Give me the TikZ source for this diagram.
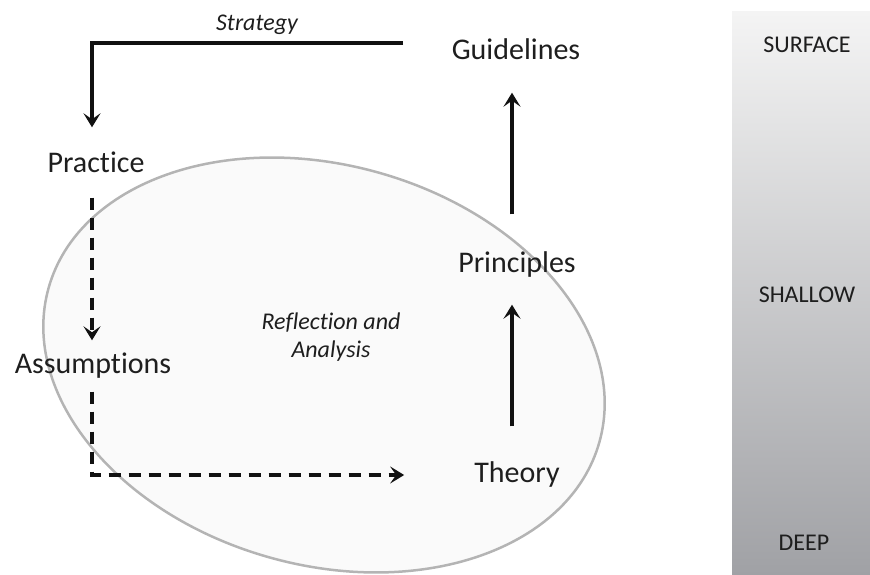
\documentclass[tikz,border=0pt]{standalone}
\usepackage{fontspec}
\setmainfont{Carlito}[Ligatures=NoCommon]
\usetikzlibrary{arrows.meta}
\definecolor{txt}{HTML}{1E1E1E}
\definecolor{ln}{HTML}{111111}
\definecolor{ellfill}{HTML}{FAFAFA}
\definecolor{elldraw}{HTML}{B4B4B4}
\definecolor{bartop}{HTML}{F4F4F4}
\definecolor{barbot}{HTML}{A0A1A5}
\tikzset{
  main/.style={inner sep=0pt, text=txt, font=\fontsize{30}{32}\selectfont, text height=21pt, text depth=6pt},
  ital/.style={inner sep=0pt, text=txt, font=\fontsize{24}{28}\selectfont\itshape, align=center},
  caps/.style={inner sep=0pt, text=txt, font=\fontsize{24}{26}\selectfont},
  arr/.style={draw=ln, line width=3.6pt, -{Stealth[length=14pt,width=17pt,inset=6pt]}},
  dasharr/.style={arr, dash pattern=on 12pt off 8pt}
}
\begin{document}
\begin{tikzpicture}[x=1pt,y=-1pt]
\useasboundingbox (0,0) rectangle (870,575);
% depth bar
\shade[top color=bartop, bottom color=barbot] (732,12) rectangle (870,575);
\node[caps] (surface) at (807,45) {SURFACE};
\node[caps] (shallow) at (807,295) {SHALLOW};
\node[caps] (deep) at (804,543) {DEEP};
% ellipse
\begin{scope}[shift={(324,365)}, rotate=-15.6]
  \draw[fill=ellfill, draw=elldraw, line width=2.5pt] (0,0) ellipse [x radius=286, y radius=200];
\end{scope}
% nodes
\node[main] (guidelines) at (516,52) {Guidelines};
\node[main] (practice) at (96,165) {Practice};
\node[main] (assumptions) at (93,366) {Assumptions};
\node[main] (principles) at (517,265) {Principles};
\node[main] (theory) at (517,475) {Theory};
\node[ital] (strategy) at (257,25) {Strategy};
\node[ital] (reflection) at (331,337) {Reflection and\\Analysis};
\coordinate (s0) at (403,43);
% connectors
\draw[arr, shorten >=24pt] (s0) -| ([xshift=-4pt]practice.north);
\draw[dasharr, shorten <=19pt, shorten >=12pt] ([xshift=-4pt]practice.south) -- ([xshift=-1pt]assumptions.north);
\draw[dasharr, shorten <=12pt, shorten >=70pt] ([xshift=-1pt]assumptions.south) |- (theory.west);
\draw[arr, shorten <=35pt, shorten >=26pt] ([xshift=-5pt]theory.north) -- ([xshift=-5pt]principles.south);
\draw[arr, shorten <=37pt, shorten >=27pt] ([xshift=-5pt]principles.north) -- ([xshift=-4pt]guidelines.south);
\end{tikzpicture}
\end{document}
